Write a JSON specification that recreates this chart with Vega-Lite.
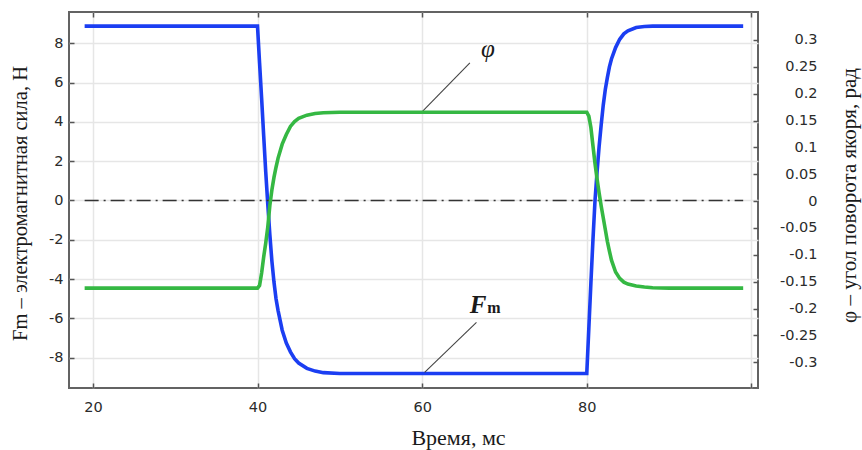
{
  "$schema": "https://vega.github.io/schema/vega-lite/v6.json",
  "width": 689,
  "height": 376,
  "autosize": {"type": "none"},
  "padding": {"left": 69, "top": 12, "right": 104, "bottom": 62},
  "background": "white",
  "config": {
    "view": {"stroke": "#636363", "strokeWidth": 2},
    "axis": {
      "domain": false,
      "tickColor": "#555555",
      "tickWidth": 1.5,
      "tickSize": -5,
      "labelFont": "DejaVu Sans",
      "labelFontSize": 14.5,
      "labelColor": "#2b2b2b",
      "titleFont": "Liberation Serif",
      "titleFontWeight": "normal",
      "titleFontSize": 20,
      "titleColor": "#1a1a1a",
      "gridColor": "#e6e6e6",
      "gridWidth": 1.5
    }
  },
  "datasets": {
    "curves": [
      {"t": 19, "F": 8.87, "phi": -0.162},
      {"t": 30, "F": 8.87, "phi": -0.162},
      {"t": 40, "F": 8.87, "phi": -0.162},
      {"t": 40.25, "F": 7.0, "phi": -0.157},
      {"t": 40.5, "F": 5.2, "phi": -0.134},
      {"t": 40.75, "F": 3.3, "phi": -0.104},
      {"t": 41, "F": 1.45, "phi": -0.078},
      {"t": 41.25, "F": -0.2, "phi": -0.048},
      {"t": 41.5, "F": -1.75, "phi": -0.008},
      {"t": 41.75, "F": -3.1, "phi": 0.021},
      {"t": 42, "F": -4.15, "phi": 0.044},
      {"t": 42.25, "F": -5.0, "phi": 0.063},
      {"t": 42.5, "F": -5.6, "phi": 0.08},
      {"t": 43, "F": -6.6, "phi": 0.106},
      {"t": 43.5, "F": -7.25, "phi": 0.124},
      {"t": 44, "F": -7.7, "phi": 0.139},
      {"t": 44.5, "F": -8.05, "phi": 0.148},
      {"t": 45, "F": -8.27, "phi": 0.154},
      {"t": 46, "F": -8.54, "phi": 0.16},
      {"t": 47, "F": -8.68, "phi": 0.163},
      {"t": 48, "F": -8.76, "phi": 0.1645},
      {"t": 50, "F": -8.8, "phi": 0.1655},
      {"t": 60, "F": -8.8, "phi": 0.1655},
      {"t": 70, "F": -8.8, "phi": 0.1655},
      {"t": 80, "F": -8.8, "phi": 0.1655},
      {"t": 80.25, "F": -6.5, "phi": 0.158},
      {"t": 80.5, "F": -4.2, "phi": 0.137},
      {"t": 80.75, "F": -2.0, "phi": 0.103},
      {"t": 81, "F": 0.0, "phi": 0.07},
      {"t": 81.25, "F": 1.45, "phi": 0.041},
      {"t": 81.5, "F": 2.75, "phi": 0.015},
      {"t": 81.75, "F": 3.85, "phi": -0.009},
      {"t": 82, "F": 4.85, "phi": -0.031},
      {"t": 82.25, "F": 5.65, "phi": -0.053},
      {"t": 82.5, "F": 6.25, "phi": -0.075},
      {"t": 82.75, "F": 6.8, "phi": -0.093},
      {"t": 83, "F": 7.2, "phi": -0.11},
      {"t": 83.5, "F": 7.78, "phi": -0.132},
      {"t": 84, "F": 8.2, "phi": -0.144},
      {"t": 84.5, "F": 8.48, "phi": -0.151},
      {"t": 85, "F": 8.63, "phi": -0.1545},
      {"t": 86, "F": 8.8, "phi": -0.158},
      {"t": 87, "F": 8.85, "phi": -0.16},
      {"t": 88, "F": 8.87, "phi": -0.1615},
      {"t": 90, "F": 8.87, "phi": -0.162},
      {"t": 99, "F": 8.87, "phi": -0.162}
    ],
    "zero": [
      {"t": 19, "F": 0},
      {"t": 99, "F": 0}
    ],
    "leaders": [
      {"t": 60.07, "F": 4.55, "t2": 65.8, "F2": 7.0},
      {"t": 60.3, "F": -8.75, "t2": 66.6, "F2": -6.2}
    ]
  },
  "layer": [
    {
      "data": {"name": "curves"},
      "mark": {"type": "line", "color": "#1b3ef2", "strokeWidth": 3.6, "clip": true},
      "encoding": {
        "x": {
          "field": "t", "type": "quantitative",
          "scale": {"domain": [17.1, 100.8], "nice": false, "zero": false},
          "axis": {
            "orient": "bottom",
            "values": [20, 40, 60, 80, 100],
            "labelExpr": "datum.value == 100 ? '' : '' + datum.value",
            "grid": true,
            "labelPadding": 17,
            "title": "Время, мс",
            "titleFontSize": 22,
            "titleX": 389,
            "titleY": 49,
            "titleBaseline": "middle",
            "titleAlign": "center"
          }
        },
        "y": {
          "field": "F", "type": "quantitative",
          "scale": {"domain": [-9.54, 9.59], "nice": false, "zero": false},
          "axis": {
            "orient": "left",
            "values": [-8, -6, -4, -2, 0, 2, 4, 6, 8],
            "labelExpr": "'' + datum.value",
            "grid": true,
            "labelPadding": 11,
            "title": "Fm – электромагнитная сила, Н",
            "titleFontSize": 20.5,
            "titleX": -49,
            "titleY": 191,
            "titleAngle": -90,
            "titleBaseline": "middle",
            "titleAlign": "center"
          }
        }
      }
    },
    {
      "data": {"name": "zero"},
      "mark": {"type": "line", "color": "#333333", "strokeWidth": 1.3, "strokeDash": [14, 5, 2, 5]},
      "encoding": {
        "x": {"field": "t", "type": "quantitative", "axis": null},
        "y": {"field": "F", "type": "quantitative", "axis": null, "scale": {"domain": [-9.54, 9.59], "nice": false, "zero": false}}
      }
    },
    {
      "data": {"name": "leaders"},
      "mark": {"type": "rule", "color": "#444444", "strokeWidth": 1.1},
      "encoding": {
        "x": {"field": "t", "type": "quantitative", "axis": null},
        "x2": {"field": "t2"},
        "y": {"field": "F", "type": "quantitative", "axis": null, "scale": {"domain": [-9.54, 9.59], "nice": false, "zero": false}},
        "y2": {"field": "F2"}
      }
    },
    {
      "data": {"values": [{"t": 68.0, "F": 7.3, "txt": "φ"}]},
      "mark": {"type": "text", "font": "Liberation Serif", "fontStyle": "italic", "fontSize": 25, "color": "#1a1a1a", "align": "center", "baseline": "alphabetic"},
      "encoding": {
        "x": {"field": "t", "type": "quantitative", "axis": null},
        "y": {"field": "F", "type": "quantitative", "axis": null, "scale": {"domain": [-9.54, 9.59], "nice": false, "zero": false}},
        "text": {"field": "txt"}
      }
    },
    {
      "data": {"values": [{"t": 65.78, "F": -5.73, "txt": "F"}]},
      "mark": {"type": "text", "font": "Liberation Serif", "fontStyle": "italic", "fontWeight": "bold", "fontSize": 25, "color": "#1a1a1a", "align": "left", "baseline": "alphabetic"},
      "encoding": {
        "x": {"field": "t", "type": "quantitative", "axis": null},
        "y": {"field": "F", "type": "quantitative", "axis": null, "scale": {"domain": [-9.54, 9.59], "nice": false, "zero": false}},
        "text": {"field": "txt"}
      }
    },
    {
      "data": {"values": [{"t": 67.9, "F": -5.73, "txt": "m"}]},
      "mark": {"type": "text", "font": "Liberation Serif", "fontWeight": "bold", "fontSize": 16, "color": "#1a1a1a", "align": "left", "baseline": "alphabetic"},
      "encoding": {
        "x": {"field": "t", "type": "quantitative", "axis": null},
        "y": {"field": "F", "type": "quantitative", "axis": null, "scale": {"domain": [-9.54, 9.59], "nice": false, "zero": false}},
        "text": {"field": "txt"}
      }
    },
    {
      "data": {"name": "curves"},
      "mark": {"type": "line", "color": "#35b843", "strokeWidth": 3.6, "clip": true},
      "encoding": {
        "x": {
          "field": "t", "type": "quantitative",
          "axis": {
            "orient": "top",
            "values": [20, 40, 60, 80, 100],
            "labels": false,
            "grid": false,
            "title": null
          }
        },
        "y": {
          "field": "phi", "type": "quantitative",
          "scale": {"domain": [-0.348, 0.352], "nice": false, "zero": false},
          "axis": {
            "orient": "right",
            "values": [-0.3, -0.25, -0.2, -0.15, -0.1, -0.05, 0, 0.05, 0.1, 0.15, 0.2, 0.25, 0.3],
            "labelExpr": "'' + datum.value",
            "labelAlign": "right",
            "labelPadding": 64,
            "grid": false,
            "title": "φ – угол поворота якоря, рад",
            "titleFontSize": 21,
            "titleX": 91,
            "titleY": 183,
            "titleAngle": 270,
            "titleBaseline": "middle",
            "titleAlign": "center"
          }
        }
      }
    }
  ],
  "resolve": {"scale": {"y": "independent"}, "axis": {"x": "independent"}}
}
